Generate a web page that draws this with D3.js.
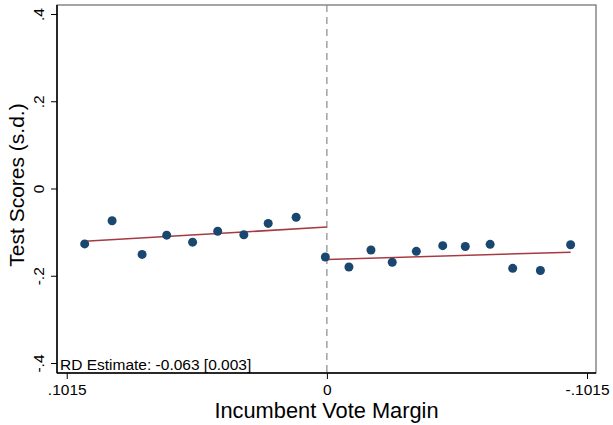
<!DOCTYPE html>
<html>
<head>
<meta charset="utf-8">
<script src="https://cdn.jsdelivr.net/npm/d3@7"></script>
<style>
  body { margin: 0; background: #fff; }
  text { font-family: "Liberation Sans", Arial, sans-serif; fill: #000; }
</style>
</head>
<body>
<div class="chart"></div>
<script>
// binned means, left of cutoff (incumbent margin > 0)
var leftX = [0.0945, 0.0838, 0.0721, 0.0625, 0.0524, 0.0426, 0.0324, 0.0229, 0.0120];
var leftY = [-0.127, -0.074, -0.151, -0.107, -0.123, -0.098, -0.106, -0.080, -0.066];
// binned means, right of cutoff
var rightX = [0.0006, -0.0086, -0.0172, -0.0255, -0.0349, -0.0452, -0.0540, -0.0637, -0.0725, -0.0833, -0.0951];
var rightY = [-0.157, -0.180, -0.141, -0.169, -0.144, -0.131, -0.133, -0.128, -0.183, -0.188, -0.129];
// linear fits (endpoints)
var leftFitX = [0.0945, 0];
var leftFitY = [-0.121, -0.0885];
var rightFitX = [0, -0.0951];
var rightFitY = [-0.163, -0.146];

var xTicks = [0.1015, 0, -0.1015];
var xTickLabels = [".1015", "0", "-.1015"];
var yTicks = [0.4, 0.2, 0, -0.2, -0.4];
var yTickLabels = [".4", ".2", "0", "-.2", "-.4"];
var rdLabel = "RD Estimate: -0.063 [0.003]";

var width = 613, height = 425;
var pLeft = 57, pRight = 596, pTop = 5, pBottom = 373;

var svg = d3.select(".chart")
	.append("svg")
	.attr("width", width)
	.attr("height", height)

var x = d3.scaleLinear()
	.domain([0.1053, -0.1050])
	.range([pLeft, pRight])

var y = d3.scaleLinear()
	.domain([-0.4229, 0.4206])
	.range([pBottom, pTop])

// frame
svg.append("rect")
	.attr("x", pLeft)
	.attr("y", pTop)
	.attr("width", pRight - pLeft)
	.attr("height", pBottom - pTop)
	.style("fill", "none")
	.style("stroke", "#6a6a6a")
	.style("stroke-width", 1.2)

// cutoff line
svg.append("line")
	.attr("x1", x(0)).attr("x2", x(0))
	.attr("y1", pTop).attr("y2", pBottom)
	.style("stroke", "#8a8a8a")
	.style("stroke-width", 1.2)
	.style("stroke-dasharray", "7,5")

// axes
var yAxis = svg.append("g")
	.attr("transform", "translate(" + pLeft + ",0)")
	.call(d3.axisLeft(y).tickValues(yTicks).tickSize(6).tickFormat(function(d, i) { return yTickLabels[i]; }))
yAxis.select(".domain").attr("d", "M0," + pTop + "V" + pBottom).style("stroke", "#000").style("stroke-width", 1.5)
yAxis.selectAll(".tick line").style("stroke", "#000")
yAxis.selectAll(".tick text")
	.attr("x", 0).attr("dy", 0)
	.attr("transform", "translate(-13,0) rotate(-90)")
	.style("text-anchor", "middle")
	.style("font-size", "15.5px")

var xAxis = svg.append("g")
	.attr("transform", "translate(0," + pBottom + ")")
	.call(d3.axisBottom(x).tickValues(xTicks).tickSize(6).tickFormat(function(d, i) { return xTickLabels[i]; }))
xAxis.select(".domain").attr("d", "M" + pLeft + ",0H" + pRight).style("stroke", "#000").style("stroke-width", 1.5)
xAxis.selectAll(".tick line").style("stroke", "#000")
xAxis.selectAll(".tick text")
	.attr("y", 22).attr("dy", 0)
	.style("font-size", "15.5px")

// fit lines
var line = d3.line()
	.x(function(d) { return x(d[0]); })
	.y(function(d) { return y(d[1]); })

svg.append("path")
	.datum(d3.zip(leftFitX, leftFitY))
	.attr("d", line)
	.style("fill", "none")
	.style("stroke", "#a63a40")
	.style("stroke-width", 1.5)

svg.append("path")
	.datum(d3.zip(rightFitX, rightFitY))
	.attr("d", line)
	.style("fill", "none")
	.style("stroke", "#a63a40")
	.style("stroke-width", 1.5)

// points
svg.append("g")
	.selectAll("circle")
	.data(d3.zip(leftX, leftY).concat(d3.zip(rightX, rightY)))
	.enter()
	.append("circle")
	.attr("cx", function(d) { return x(d[0]); })
	.attr("cy", function(d) { return y(d[1]); })
	.attr("r", 4.5)
	.style("fill", "#1a476f")

// annotation
svg.append("text")
	.attr("x", pLeft + 3)
	.attr("y", pBottom - 3)
	.text(rdLabel)
	.style("font-size", "15.5px")

// titles
svg.append("text")
	.attr("x", (pLeft + pRight) / 2)
	.attr("y", 418)
	.style("text-anchor", "middle")
	.style("font-size", "21.8px")
	.text("Incumbent Vote Margin")

svg.append("text")
	.attr("transform", "translate(24," + ((pTop + pBottom) / 2 - 4) + ") rotate(-90)")
	.style("text-anchor", "middle")
	.style("font-size", "21px")
	.text("Test Scores (s.d.)")
</script>
</body>
</html>
